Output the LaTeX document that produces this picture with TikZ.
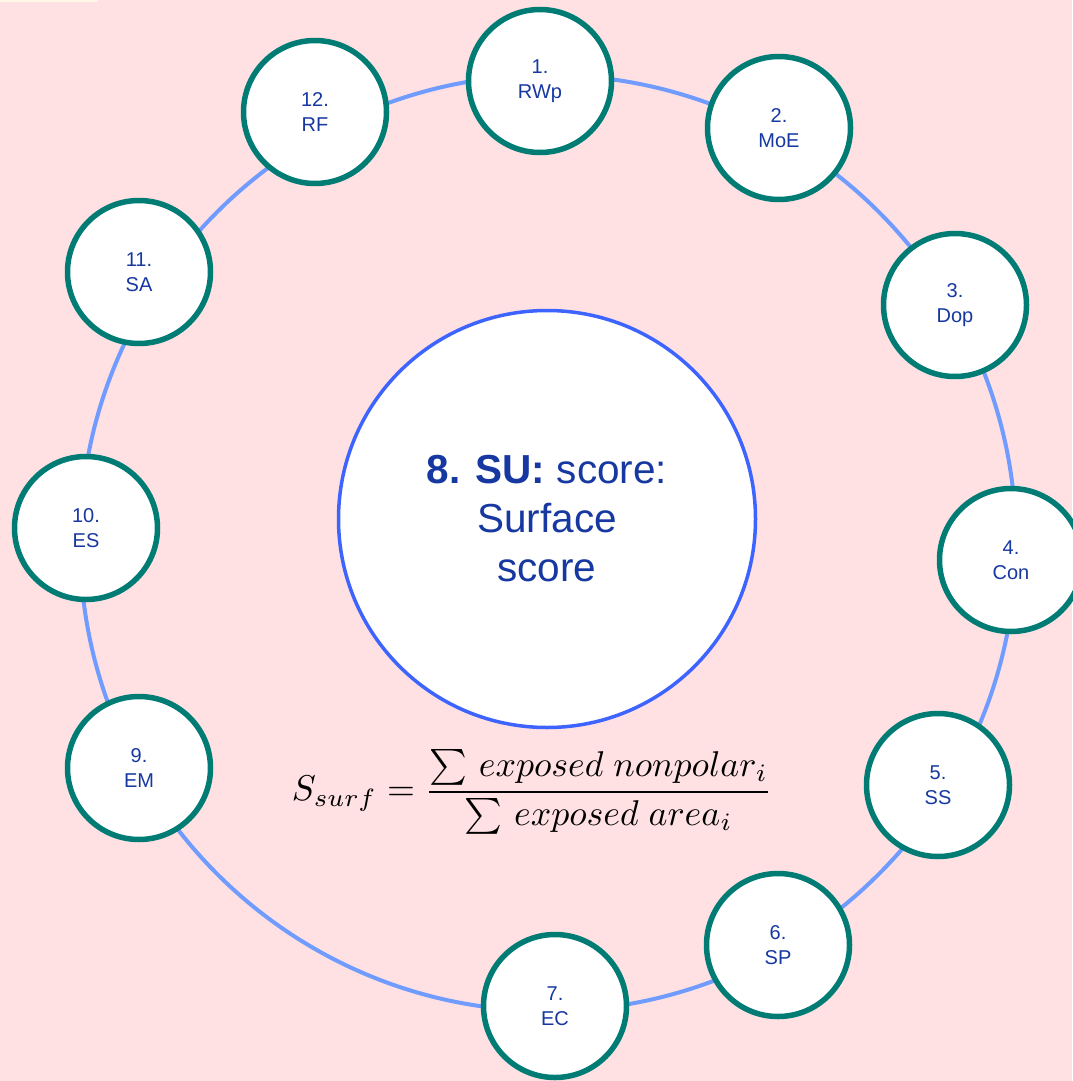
\documentclass[tikz,border=0pt]{standalone}
\usepackage{fontspec}
\setmainfont{Liberation Sans}
\usepackage{amsmath}
\usepackage{graphicx}

\definecolor{bgpink}{RGB}{255,225,227}
\definecolor{cream}{RGB}{255,247,232}
\definecolor{ringblue}{RGB}{112,156,255}
\definecolor{tealedge}{RGB}{0,124,116}
\definecolor{coreblue}{RGB}{62,100,255}
\definecolor{inkblue}{RGB}{22,56,160}

\begin{document}
\begin{tikzpicture}[x=1pt,y=-1pt,
  metric/.style={circle,draw=tealedge,line width=5.5pt,fill=white,
    minimum size=143pt,inner sep=0pt,align=center,text=inkblue,
    font=\fontsize{20}{25}\selectfont},
  core/.style={circle,draw=coreblue,line width=3.5pt,fill=white,
    minimum size=417pt,inner sep=0pt,align=center,text=inkblue,
    font=\fontsize{40.5}{49}\selectfont},
  ring/.style={draw=ringblue,line width=4pt}]

% page background
\fill[bgpink] (0,0) rectangle (1072,1081);
\fill[cream] (0,0) rectangle (98,2.5);
\useasboundingbox (0,0) rectangle (1072,1081);

% ring that carries the metrics
\coordinate (ringc) at (548,543);
\draw[ring] (ringc) circle[radius=468];

% central score
\node[core] (su) at (547,519) {{\bfseries 8. SU:} score:\\Surface\\score};

% metrics around the ring
\node[metric] (rwp) at (540,81)   {1.\\RWp};
\node[metric] (moe) at (779,128)  {2.\\MoE};
\node[metric] (dop) at (955,305)  {3.\\Dop};
\node[metric] (con) at (1011,560) {4.\\Con};
\node[metric] (ss)  at (938,785)  {5.\\SS};
\node[metric] (sp)  at (778,945)  {6.\\SP};
\node[metric] (ec)  at (555,1006) {7.\\EC};
\node[metric] (em)  at (139,768)  {9.\\EM};
\node[metric] (es)  at (86,528)   {10.\\ES};
\node[metric] (sa)  at (139,272)  {11.\\SA};
\node[metric] (rf)  at (315,112)  {12.\\RF};

% surface score formula
\node (formula) at (532,792)
  {\resizebox{480pt}{!}{$\displaystyle S_{surf}=\frac{\sum\,exposed\ nonpolar_i}{\sum\,exposed\ area_i}$}};
\end{tikzpicture}
\end{document}
